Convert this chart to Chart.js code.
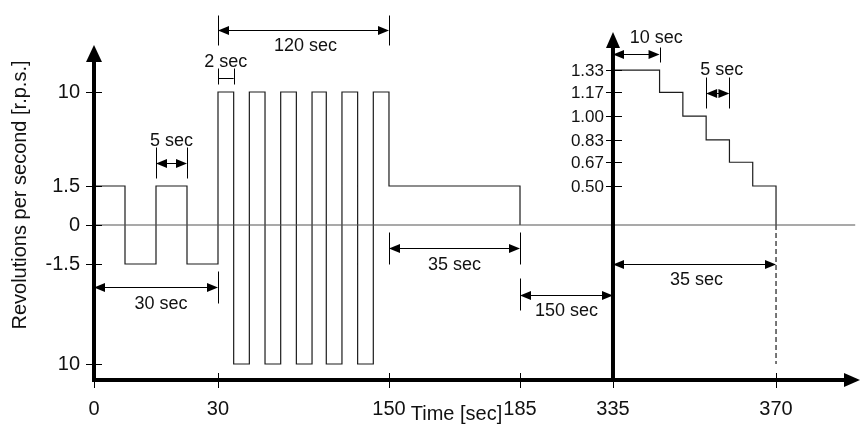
<!DOCTYPE html>
<html>
<head>
<meta charset="utf-8">
<script src="https://cdn.jsdelivr.net/npm/chart.js@4.4.1/dist/chart.umd.min.js"></script>
<style>
  html, body { margin: 0; padding: 0; background: #fff; }
  #chart { display: block; }
</style>
</head>
<body>
<canvas id="chart" width="860" height="431"></canvas>
<script>
// axis ticks
const xTicks = [0, 30, 150, 185, 335, 370];
const yTicks = [-10, -1.5, 0, 1.5, 10];
const yTickLabels = ["10", "-1.5", "0", "1.5", "10"];
const stepTicks = [0.5, 0.67, 0.83, 1.0, 1.17, 1.33];
const stepTickLabels = ["0.50", "0.67", "0.83", "1.00", "1.17", "1.33"];

// first protocol: pulse train, each value holds until the next time
const pulseTimes = [0, 7.5, 15, 22.5, 30, 41, 52, 63, 74, 85, 96, 106, 117, 128, 139, 150, 185];
const pulseValues = [1.5, -1.5, 1.5, -1.5, 10, -10, 10, -10, 10, -10, 10, -10, 10, -10, 10, 1.5, 0];

// second protocol: staircase after the pause
const stepTimes = [335, 345, 350, 355, 360, 365, 370];
const stepValues = [1.33, 1.17, 1.0, 0.83, 0.67, 0.5, 0];

// dimension marks (time spans)
const dimLabels = ["120 sec", "2 sec", "5 sec", "30 sec", "35 sec", "150 sec", "35 sec", "10 sec", "5 sec"];
const dimFrom = [30, 30, 15, 0, 150, 185, 335, 335, 355];
const dimTo = [150, 41, 22.5, 30, 185, 335, 370, 345, 360];

// where each dimension sits (level on the left axis) and its extension lines
const dimLayout = [
  { level: 15.6, dx: 2, dy: 16, ext: [[-15, 15], [-15, 15]] },
  { level: 11.26, dx: 0, dy: -16, ext: [[-10, 6], [-10, 6]], bracket: true },
  { level: 3.58, dx: 0, dy: -22, ext: [[-16, 15], [-16, 15]] },
  { level: -3.46, dx: 5, dy: 17, ext: [null, [-16, 16]] },
  { level: -0.885, dx: 0, dy: 17, ext: [[-16, 16], [-16, 16]] },
  { level: -4.14, dx: 0, dy: 16, ext: [[-17, 15], null] },
  { level: -1.5, dx: 2, dy: 16, ext: [null, null] },
  { level: 13.43, dx: 20, dy: -16, ext: [null, [-7, 8]] },
  { level: 9.9, dx: 4, dy: -23, ext: [[-16, 15], [-16, 15]] },
];

const FONT = "'Liberation Sans', Arial, sans-serif";

// linear scale with break points: [value, fraction of axis length]
class BrokenScale extends Chart.LinearScale {
  static id = "broken";
  static defaults = Chart.LinearScale.defaults;
  _frac(v) {
    const b = this.options.breaks;
    let i = 1;
    while (i < b.length - 1 && v > b[i][0]) i++;
    const [v0, f0] = b[i - 1];
    const [v1, f1] = b[i];
    return f0 + (v - v0) * (f1 - f0) / (v1 - v0);
  }
  getPixelForValue(value) {
    const f = this._frac(value);
    return this.isHorizontal() ? this.left + f * this.width : this.bottom - f * this.height;
  }
  getValueForPixel(pixel) {
    const b = this.options.breaks;
    const f = this.isHorizontal() ? (pixel - this.left) / this.width : (this.bottom - pixel) / this.height;
    let i = 1;
    while (i < b.length - 1 && f > b[i][1]) i++;
    const [v0, f0] = b[i - 1];
    const [v1, f1] = b[i];
    return v0 + (f - f0) * (v1 - v0) / (f1 - f0);
  }
}
Chart.register(BrokenScale);

function seg(ctx, x1, y1, x2, y2) {
  ctx.beginPath();
  ctx.moveTo(x1, y1);
  ctx.lineTo(x2, y2);
  ctx.stroke();
}

function tri(ctx, p1, p2, p3) {
  ctx.beginPath();
  ctx.moveTo(p1[0], p1[1]);
  ctx.lineTo(p2[0], p2[1]);
  ctx.lineTo(p3[0], p3[1]);
  ctx.closePath();
  ctx.fill();
}

const sketchPlugin = {
  id: "sketch",
  afterDatasetsDraw(chart) {
    const { ctx, chartArea: a, scales } = chart;
    const xs = scales.x, ys = scales.y, y2s = scales.y2;
    const x2 = xs.getPixelForValue(335);
    ctx.save();
    ctx.fillStyle = "#000";
    ctx.strokeStyle = "#000";

    // thick axes with arrow heads
    ctx.lineWidth = 4;
    seg(ctx, a.left, a.bottom + 2, a.left, a.top + 50);
    tri(ctx, [a.left, a.top + 35], [a.left - 8, a.top + 52], [a.left + 8, a.top + 52]);
    seg(ctx, x2, a.bottom + 2, x2, a.top + 36);
    tri(ctx, [x2, a.top + 22], [x2 - 7, a.top + 38], [x2 + 7, a.top + 38]);
    seg(ctx, a.left - 2, a.bottom, a.right - 12, a.bottom);
    tri(ctx, [a.right + 2, a.bottom], [a.right - 14, a.bottom - 7], [a.right - 14, a.bottom + 7]);

    // tick marks crossing the axes
    ctx.lineWidth = 1;
    xTicks.forEach((v) => {
      const px = Math.round(xs.getPixelForValue(v)) + 0.5;
      seg(ctx, px, a.bottom - 7, px, a.bottom + 8);
    });
    yTicks.forEach((v) => {
      const py = Math.round(ys.getPixelForValue(v)) + 0.5;
      seg(ctx, a.left - 8, py, a.left + 8, py);
    });
    ctx.font = "17px " + FONT;
    ctx.textAlign = "right";
    ctx.textBaseline = "middle";
    ctx.fillStyle = "#111";
    stepTicks.forEach((v, i) => {
      const py = Math.round(y2s.getPixelForValue(v)) + 0.5;
      seg(ctx, x2 - 7, py, x2 + 9, py);
      ctx.fillText(stepTickLabels[i], x2 - 9, py + 1);
    });

    // x axis title
    ctx.font = "20px " + FONT;
    ctx.textAlign = "center";
    const tx = (xs.getPixelForValue(150) + xs.getPixelForValue(185)) / 2 + 2;
    ctx.fillText("Time [sec]", tx, a.bottom + 34);

    // dimension lines
    ctx.fillStyle = "#000";
    ctx.font = "18px " + FONT;
    dimLabels.forEach((label, i) => {
      const L = dimLayout[i];
      const p1 = xs.getPixelForValue(dimFrom[i]);
      const p2 = xs.getPixelForValue(dimTo[i]);
      const py = Math.round(ys.getPixelForValue(L.level)) + 0.5;
      ctx.lineWidth = 1;
      [p1, p2].forEach((p, k) => {
        const e = L.ext[k];
        if (e) {
          const ex = Math.round(p) + 0.5;
          seg(ctx, ex, py + e[0], ex, py + e[1]);
        }
      });
      if (L.bracket) {
        seg(ctx, p1, py, p2, py);
      } else {
        seg(ctx, p1 + 8, py, p2 - 8, py);
        tri(ctx, [p1, py], [p1 + 11, py - 4.5], [p1 + 11, py + 4.5]);
        tri(ctx, [p2, py], [p2 - 11, py - 4.5], [p2 - 11, py + 4.5]);
      }
      ctx.fillStyle = "#111";
      ctx.fillText(label, (p1 + p2) / 2 + L.dx, py + L.dy);
      ctx.fillStyle = "#000";
    });
    ctx.restore();
  },
};

const toPoints = (xsArr, ysArr) => xsArr.map((t, i) => ({ x: t, y: ysArr[i] }));

new Chart(document.getElementById("chart"), {
  type: "line",
  data: {
    datasets: [
      {
        label: "zero",
        data: toPoints([0, 387], [0, 0]),
        borderColor: "#555555",
        borderWidth: 1.2,
        pointRadius: 0,
        yAxisID: "y",
      },
      {
        label: "pulses",
        data: toPoints(pulseTimes, pulseValues),
        stepped: "before",
        borderColor: "#1c1c1c",
        borderWidth: 1.2,
        pointRadius: 0,
        yAxisID: "y",
      },
      {
        label: "steps",
        data: toPoints(stepTimes, stepValues),
        stepped: "before",
        borderColor: "#1c1c1c",
        borderWidth: 1.2,
        pointRadius: 0,
        yAxisID: "y2",
      },
      {
        label: "end",
        data: toPoints([370, 370], [0, -10]),
        borderColor: "#1c1c1c",
        borderWidth: 1.2,
        borderDash: [5, 3],
        pointRadius: 0,
        yAxisID: "y",
      },
    ],
  },
  options: {
    responsive: false,
    animation: false,
    devicePixelRatio: 1,
    layout: { padding: { left: 0, right: 2, top: 10, bottom: 0 } },
    plugins: { legend: { display: false }, tooltip: { enabled: false } },
    events: [],
    scales: {
      x: {
        type: "broken",
        min: 0,
        max: 387.6,
        breaks: [[0, 0], [30, 0.1623], [150, 0.3861], [185, 0.5576], [335, 0.6793], [370, 0.8927], [387.6, 1]],
        grid: { display: false, drawTicks: false },
        border: { display: false },
        afterBuildTicks: (s) => { s.ticks = xTicks.map((v) => ({ value: v })); },
        afterFit: (s) => { s.height = 51; s.paddingLeft = 0; s.paddingRight = 0; },
        ticks: {
          autoSkip: false,
          maxRotation: 0,
          padding: 17,
          color: "#111",
          font: { family: FONT, size: 20 },
          callback: (v) => String(v),
        },
      },
      y: {
        type: "broken",
        position: "left",
        min: -11.36,
        max: 17.4,
        breaks: [[-11.36, 0], [-10, 0.0432], [-1.5, 0.3135], [0, 0.4189], [1.5, 0.5243], [10, 0.7784], [17.4, 1]],
        grid: { display: false, drawTicks: false },
        border: { display: false },
        afterBuildTicks: (s) => { s.ticks = yTicks.map((v) => ({ value: v })); },
        afterFit: (s) => { s.width = 94; s.paddingTop = 0; s.paddingBottom = 0; },
        ticks: {
          autoSkip: false,
          padding: 14,
          color: "#111",
          font: { family: FONT, size: 20 },
          callback: (v, i) => yTickLabels[i],
        },
        title: {
          display: true,
          text: "Revolutions per second [r.p.s.]",
          color: "#111",
          font: { family: FONT, size: 20 },
          padding: { top: 8, bottom: 0 },
        },
      },
      y2: {
        type: "broken",
        position: "right",
        display: false,
        min: -2,
        max: 1.76,
        breaks: [[-2, 0], [0, 0.4189], [0.5, 0.5243], [1.76, 1]],
      },
    },
  },
  plugins: [sketchPlugin],
});
</script>
</body>
</html>
